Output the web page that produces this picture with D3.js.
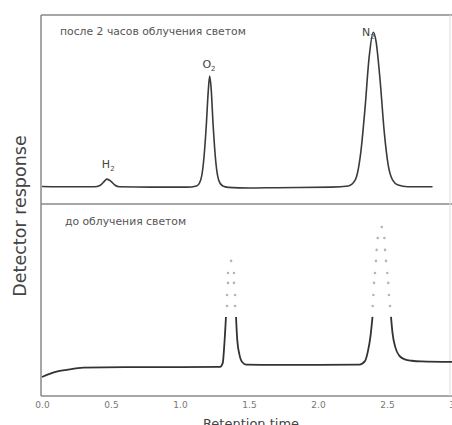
<!DOCTYPE html>
<html>
<head>
<meta charset="utf-8">
<script src="https://cdn.jsdelivr.net/npm/d3@7"></script>
<style>
  body { margin: 0; background: #fff; }
  svg { display: block; font-family: "DejaVu Sans", sans-serif; }
</style>
</head>
<body>
<script>
// chart size
const width = 452
const height = 425

// retention time ticks
const timeTicks = [0, 0.5, 1.0, 1.5, 2.0, 2.5, 3.0]

// top trace: after 2 h of light (time, response)
const afterLight = [
  [0.00, 10.2], [0.20, 10.0], [0.38, 10.0], [0.42, 10.8], [0.45, 13.0], [0.47, 14.5],
  [0.50, 13.2], [0.53, 10.9], [0.56, 10.0], [0.80, 9.8], [1.05, 9.8], [1.12, 10.5],
  [1.15, 14], [1.17, 24], [1.19, 45], [1.205, 66], [1.215, 74.5], [1.225, 68],
  [1.24, 46], [1.26, 24], [1.28, 14], [1.31, 10.5], [1.35, 9.7], [1.5, 9.3],
  [1.7, 9.5], [2.1, 9.8], [2.22, 10.5], [2.27, 14], [2.31, 30], [2.34, 55],
  [2.37, 85], [2.40, 100], [2.42, 95], [2.45, 72], [2.48, 42], [2.51, 22],
  [2.54, 14], [2.58, 11], [2.65, 10], [2.83, 10]
]

// bottom trace: before light, null = off scale
const beforeLight = [
  [0.00, 10.9], [0.06, 12.8], [0.12, 14.2], [0.18, 15.0], [0.30, 16.2], [0.6, 16.6],
  [1.0, 16.6], [1.29, 16.7], [1.31, 19], [1.32, 28], [1.333, 45.3], [1.37, null],
  [1.406, 45.3], [1.415, 32], [1.43, 24], [1.45, 19.5], [1.48, 18.0], [1.7, 17.8],
  [2.0, 17.8], [2.3, 18.0], [2.34, 20], [2.36, 25], [2.38, 34], [2.395, 45.3],
  [2.46, null], [2.529, 45.3], [2.54, 36], [2.56, 28], [2.59, 23], [2.63, 21],
  [2.68, 20.2], [2.75, 19.8], [3.0, 19.5]
]

// dotted continuation of the clipped peaks
const offScaleDots = [
  [1.341, 51.6], [1.399, 51.6], [1.341, 57.9], [1.399, 57.9], [1.348, 64.8], [1.391, 64.8],
  [1.348, 70.5], [1.391, 70.5], [1.370, 77.4],
  [2.396, 51.6], [2.522, 51.6], [2.401, 57.9], [2.514, 57.9], [2.406, 64.8], [2.509, 64.8],
  [2.413, 70.5], [2.502, 70.5], [2.420, 77.4], [2.493, 77.4], [2.425, 83.7], [2.486, 83.7],
  [2.433, 90.5], [2.481, 90.5], [2.462, 96.8]
]

// peak labels (time, response, name, subscript)
const peakLabels = [
  [0.48, 21, "H", "2"],
  [1.21, 79, "O", "2"],
  [2.365, 97.5, "N", "2"]
]

const panelTitles = ["после 2 часов облучения светом", "до облучения светом"]

const svg = d3.select("body").append("svg")
  .attr("width", width)
  .attr("height", height)

// scales
const x = d3.scaleLinear().domain([0, 3]).range([42, 456])
const yTop = d3.scaleLinear().domain([0, 110]).range([204, 15])
const yBot = d3.scaleLinear().domain([0, 110]).range([396, 204])

// frame
const frame = svg.append("g").attr("stroke", "#888").attr("stroke-width", 1.5).attr("fill", "none")
frame.append("line").attr("x1", 41).attr("x2", 41).attr("y1", 15).attr("y2", 396)
frame.append("line").attr("x1", 41).attr("x2", width).attr("y1", 15).attr("y2", 15)
frame.append("line").attr("x1", 41).attr("x2", width).attr("y1", 204).attr("y2", 204)
frame.append("line").attr("x1", 41).attr("x2", width).attr("y1", 396).attr("y2", 396)
frame.append("line").attr("x1", 450).attr("x2", 450).attr("y1", 15).attr("y2", 396)
  .attr("stroke", "#ddd").attr("stroke-width", 1)

// traces
const topLine = d3.line()
  .x(d => x(d[0]))
  .y(d => yTop(d[1]))
  .curve(d3.curveMonotoneX)

const botLine = d3.line()
  .defined(d => d[1] != null)
  .x(d => x(d[0]))
  .y(d => yBot(d[1]))
  .curve(d3.curveMonotoneX)

svg.append("path")
  .datum(afterLight)
  .attr("d", topLine)
  .attr("fill", "none")
  .attr("stroke", "#3a3a3a")
  .attr("stroke-width", 1.6)

svg.append("path")
  .datum(beforeLight)
  .attr("d", botLine)
  .attr("fill", "none")
  .attr("stroke", "#333")
  .attr("stroke-width", 1.8)

svg.append("g")
  .selectAll("circle")
  .data(offScaleDots)
  .enter()
  .append("circle")
  .attr("cx", d => x(d[0]))
  .attr("cy", d => yBot(d[1]))
  .attr("r", 1.3)
  .attr("fill", "#b5b5b5")

// peak labels
const labels = svg.append("g")
  .selectAll("text")
  .data(peakLabels)
  .enter()
  .append("text")
  .attr("x", d => x(d[0]))
  .attr("y", d => yTop(d[1]))
  .attr("text-anchor", "middle")
  .attr("font-size", "11px")
  .attr("fill", "#444")
labels.append("tspan").text(d => d[2])
labels.append("tspan").attr("font-size", "7px").attr("dy", 3).text(d => d[3])

// panel titles
svg.append("text")
  .attr("x", 60).attr("y", 35)
  .attr("font-size", "10.8px")
  .attr("fill", "#555")
  .text(panelTitles[0])
svg.append("text")
  .attr("x", 65).attr("y", 225)
  .attr("font-size", "10.8px")
  .attr("fill", "#555")
  .text(panelTitles[1])

// x axis
const xAxis = svg.append("g")
  .attr("transform", "translate(0,396)")
  .call(d3.axisBottom(x).tickValues(timeTicks).tickFormat(d3.format(".1f")).tickSize(0).tickPadding(6))
xAxis.select(".domain").remove()
xAxis.selectAll("text")
  .attr("font-family", "DejaVu Sans, sans-serif")
  .attr("font-size", "9px")
  .attr("fill", "#777")

svg.append("text")
  .attr("x", 251).attr("y", 428)
  .attr("text-anchor", "middle")
  .attr("font-size", "13px")
  .attr("fill", "#444")
  .text("Retention time")

svg.append("text")
  .attr("transform", "translate(26,216) rotate(-90)")
  .attr("text-anchor", "middle")
  .attr("font-size", "17.5px")
  .attr("fill", "#444")
  .text("Detector response")
</script>
</body>
</html>
